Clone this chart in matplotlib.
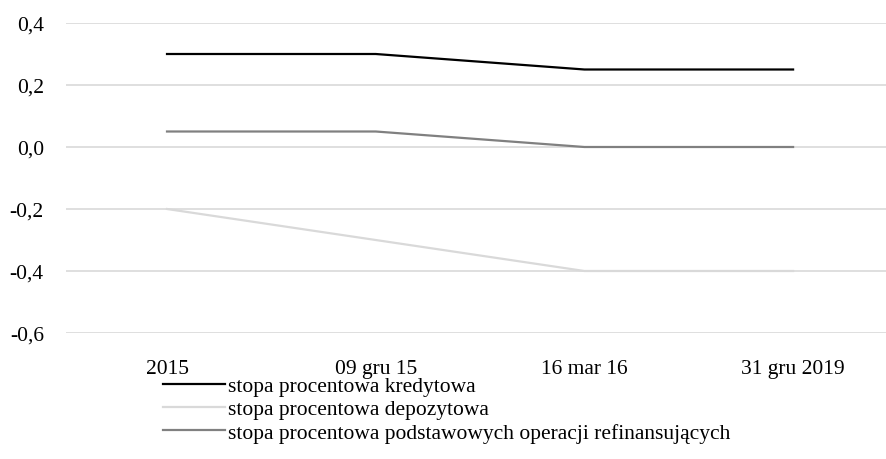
import matplotlib
matplotlib.use("Agg")
from matplotlib import pyplot as plt
from matplotlib.ticker import FuncFormatter

# chart data
categories = ["2015", "09 gru 15", "16 mar 16", "31 gru 2019"]
kredytowa = [0.30, 0.30, 0.25, 0.25]
depozytowa = [-0.20, -0.30, -0.40, -0.40]
refinansowa = [0.05, 0.05, 0.00, 0.00]
labels = ["stopa procentowa kredytowa",
          "stopa procentowa depozytowa",
          "stopa procentowa podstawowych operacji refinansujących"]

plt.rcParams['font.family'] = ['Liberation Serif', 'DejaVu Serif']
fs = 15.5

fig = plt.figure(figsize=(8.87, 4.6), dpi=100)
ax = fig.add_axes([66 / 887, 1 - 334 / 460, 821 / 887, 310 / 460])

x = list(range(len(categories)))
ax.plot(x, kredytowa, color="#000000", linewidth=1.6, label=labels[0])
ax.plot(x, depozytowa, color="#d9d9d9", linewidth=1.6, label=labels[1])
ax.plot(x, refinansowa, color="#808080", linewidth=1.6, label=labels[2])

ax.set_xlim(-0.484, 3.45)
ax.set_ylim(-0.6, 0.4)
ax.set_yticks([-0.6, -0.4, -0.2, 0.0, 0.2, 0.4])
ax.yaxis.set_major_formatter(FuncFormatter(lambda v, p: f"{v:.1f}".replace(".", ",").replace("-0,0", "0,0")))
ax.set_xticks(x)
ax.set_xticklabels(categories)
ax.tick_params(axis="both", length=0, labelsize=fs, colors="#000000")
ax.tick_params(axis="y", pad=16)
ax.tick_params(axis="x", pad=19)
ax.yaxis.grid(True, color="#d9d9d9", linewidth=1.2)
ax.set_axisbelow(True)
for s in ax.spines.values():
    s.set_visible(False)

fig.legend(loc="upper left", bbox_to_anchor=(163 / 887, 1 - 377 / 460),
           frameon=False, fontsize=fs, handlelength=2.9, handletextpad=0.1,
           labelspacing=0.15, borderpad=0, borderaxespad=0)

fig.savefig("out.png", dpi=100)
